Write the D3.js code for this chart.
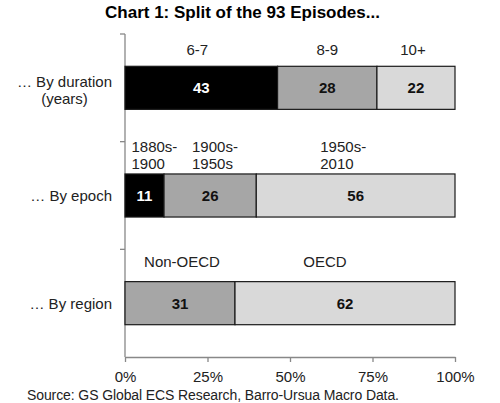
<!DOCTYPE html>
<html>
<head>
<meta charset="utf-8">
<script src="https://cdn.jsdelivr.net/npm/d3@7"></script>
<style>
  html, body { margin: 0; padding: 0; background: #fff; }
  svg { display: block; font-family: "Liberation Sans", Arial, sans-serif; }
</style>
</head>
<body>
<svg id="chart" width="500" height="403"></svg>
<script>
// ---- data ----
const titleText = "Chart 1: Split of the 93 Episodes...";
const sourceText = "Source: GS Global ECS Research, Barro-Ursua Macro Data.";
const totalEpisodes = 93;
const categories = ["duration", "epoch", "region"];
const categoryLabels = [["\u2026 By duration", "(years)"], ["\u2026 By epoch"], ["\u2026 By region"]];
const durationValues = [43, 28, 22];
const durationLabels = [["6-7"], ["8-9"], ["10+"]];
const epochValues = [11, 26, 56];
const epochLabels = [["1880s-", "1900"], ["1900s-", "1950s"], ["1950s-", "2010"]];
const regionValues = [31, 62];
const regionLabels = [["Non-OECD"], ["OECD"]];
const xTickValues = [0, 0.25, 0.5, 0.75, 1];

// ---- layout / style (not data) ----
const shadesByCat = {
  duration: ["#000000", "#a6a6a6", "#d9d9d9"],
  epoch: ["#000000", "#a6a6a6", "#d9d9d9"],
  region: ["#a6a6a6", "#d9d9d9"]
};
const valueColorByCat = {
  duration: ["#fff", "#111", "#111"],
  epoch: ["#fff", "#111", "#111"],
  region: ["#111", "#111"]
};
// label placement above each bar: anchor mode, pixel nudges, gap above bar
const labelLayout = {
  duration: { anchor: "middle", dx: [-4, 0, -3], gap: 11 },
  epoch: { anchor: "start", dx: [6.5, 28, 64], gap: 5 },
  region: { anchor: "middle", dx: [2, -20], gap: 15 }
};

const valuesByCat = { duration: durationValues, epoch: epochValues, region: regionValues };
const labelsByCat = { duration: durationLabels, epoch: epochLabels, region: regionLabels };

const svg = d3.select("#chart");
const textColor = "#222";
const axisColor = "#888";

const x = d3.scaleLinear().domain([0, 1]).range([125, 455]);
const y = d3.scaleBand().domain(categories).range([34, 357]).paddingInner(0.6).paddingOuter(0.3);

// title
svg.append("text")
  .attr("x", 242.5).attr("y", 18)
  .attr("text-anchor", "middle")
  .attr("font-weight", "bold").attr("font-size", 17)
  .attr("fill", "#000")
  .text(titleText);

// y axis line + boundary ticks
const gap = (y.step() - y.bandwidth()) / 2;
svg.append("line")
  .attr("x1", x(0)).attr("x2", x(0))
  .attr("y1", y.range()[0]).attr("y2", y.range()[1])
  .attr("stroke", axisColor).attr("stroke-width", 1.3);
svg.selectAll(".ytick").data(categories).enter().append("line")
  .attr("x1", x(0) - 5).attr("x2", x(0))
  .attr("y1", d => y(d) - gap).attr("y2", d => y(d) - gap)
  .attr("stroke", axisColor).attr("stroke-width", 1.3);

// x axis
const xAxis = d3.axisBottom(x).tickValues(xTickValues).tickFormat(d3.format(".0%")).tickSize(5).tickSizeOuter(0).tickPadding(9);
const gx = svg.append("g").attr("transform", `translate(0,${y.range()[1]})`).call(xAxis);
gx.select(".domain").attr("stroke", axisColor).attr("stroke-width", 1.3);
gx.selectAll(".tick line").attr("stroke", axisColor).attr("stroke-width", 1.3);
gx.selectAll(".tick text").attr("font-size", 15).attr("fill", textColor)
  .attr("font-family", '"Liberation Sans", Arial, sans-serif');

// category labels
categories.forEach((cat, ci) => {
  const lines = categoryLabels[ci];
  const cy = y(cat) + y.bandwidth() / 2;
  const t = svg.append("text").attr("font-size", 15).attr("fill", textColor);
  const n = lines.length;
  const spans = lines.map((ln, i) => t.append("tspan")
    .attr("y", cy + 5.5 + (i - (n - 1) / 2) * 17 + (n > 1 ? 2 : 0))
    .text(ln));
  // widest line right-aligned at 112, lines centered on each other
  const widths = spans.map(s => s.node().getComputedTextLength());
  const maxW = d3.max(widths);
  const centerX = 112 - maxW / 2;
  spans.forEach(s => s.attr("x", centerX).attr("text-anchor", "middle"));
});

// bars
categories.forEach(cat => {
  const vals = valuesByCat[cat];
  const labs = labelsByCat[cat];
  const lay = labelLayout[cat];
  let cum = 0;
  const segs = vals.map((v, i) => {
    const s = { v, i, start: cum / totalEpisodes, end: (cum + v) / totalEpisodes };
    cum += v;
    return s;
  });
  const g = svg.append("g");
  const top = y(cat);
  const bh = y.bandwidth();

  g.selectAll("rect").data(segs).enter().append("rect")
    .attr("x", d => x(d.start)).attr("y", top)
    .attr("width", d => x(d.end) - x(d.start)).attr("height", bh)
    .attr("fill", d => shadesByCat[cat][d.i])
    .attr("stroke", "#1a1a1a").attr("stroke-width", 1.2);

  g.selectAll(".val").data(segs).enter().append("text")
    .attr("x", d => (x(d.start) + x(d.end)) / 2)
    .attr("y", top + bh / 2 + 5.5)
    .attr("text-anchor", "middle")
    .attr("font-weight", "bold").attr("font-size", 15)
    .attr("fill", d => valueColorByCat[cat][d.i])
    .text(d => d.v);

  segs.forEach(d => {
    const lines = labs[d.i];
    const baseX = lay.anchor === "start" ? x(d.start) + lay.dx[d.i]
                                         : (x(d.start) + x(d.end)) / 2 + lay.dx[d.i];
    const t = g.append("text").attr("font-size", 15).attr("fill", textColor)
      .attr("text-anchor", lay.anchor);
    const n = lines.length;
    lines.forEach((ln, li) => {
      t.append("tspan").attr("x", baseX)
        .attr("y", top - lay.gap - (n - 1 - li) * 17.3)
        .text(ln);
    });
  });
});

// source
svg.append("text")
  .attr("x", 27).attr("y", 400)
  .attr("font-size", 14).attr("fill", textColor)
  .attr("letter-spacing", -0.1)
  .text(sourceText);
</script>
</body>
</html>
